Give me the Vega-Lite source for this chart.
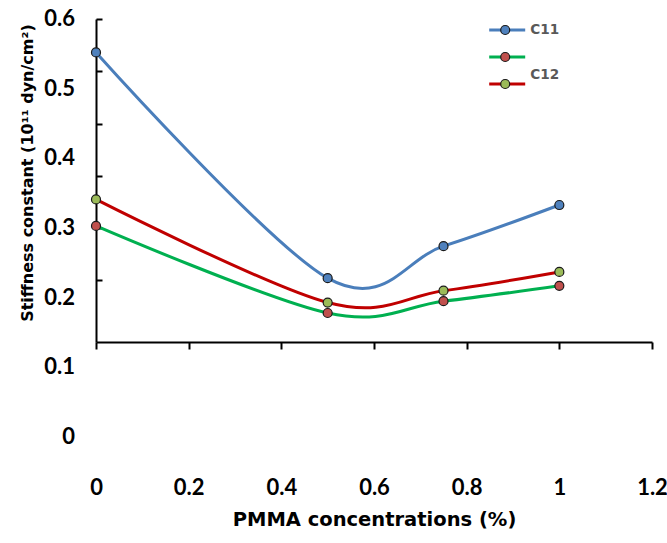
{
  "$schema": "https://vega.github.io/schema/vega-lite/v6.json",
  "width": 556,
  "height": 323,
  "autosize": {"type": "none"},
  "padding": {"left": 96, "top": 19, "right": 15, "bottom": 201},
  "background": "white",
  "config": {"view": {"stroke": null}},
  "datasets": {
    "stiff": [
      {"series": "C11", "conc": 0, "value": 0.552},
      {"series": "C11", "conc": 0.5, "value": 0.228},
      {"series": "C11", "conc": 0.75, "value": 0.274},
      {"series": "C11", "conc": 1, "value": 0.333},
      {"series": "C12", "conc": 0, "value": 0.303},
      {"series": "C12", "conc": 0.5, "value": 0.178},
      {"series": "C12", "conc": 0.75, "value": 0.195},
      {"series": "C12", "conc": 1, "value": 0.217},
      {"series": "C44", "conc": 0, "value": 0.341},
      {"series": "C44", "conc": 0.5, "value": 0.193},
      {"series": "C44", "conc": 0.75, "value": 0.21},
      {"series": "C44", "conc": 1, "value": 0.237}
    ],
    "ylabels": [
      {"tick": 0.6, "label": "0.6"},
      {"tick": 0.5, "label": "0.5"},
      {"tick": 0.4, "label": "0.4"},
      {"tick": 0.3, "label": "0.3"},
      {"tick": 0.2, "label": "0.2"},
      {"tick": 0.1, "label": "0.1"},
      {"tick": 0, "label": "0"}
    ]
  },
  "layer": [
    {
      "data": {"name": "stiff"},
      "mark": {"type": "line", "interpolate": "cardinal", "strokeWidth": 3},
      "encoding": {
        "x": {
          "field": "conc", "type": "quantitative",
          "scale": {"domain": [0, 1.2], "nice": false, "zero": false},
          "axis": {
            "title": "PMMA concentrations (%)",
            "values": [0, 0.2, 0.4, 0.6, 0.8, 1, 1.2],
            "format": "~g",
            "grid": false,
            "labelFlush": false,
            "labelOverlap": false,
            "tickSize": 7,
            "tickWidth": 2,
            "tickColor": "black",
            "domainColor": "black",
            "domainWidth": 2,
            "labelPadding": 128,
            "labelFont": "Lato",
            "labelFontWeight": "bold",
            "labelFontSize": 22,
            "labelColor": "black",
            "titlePadding": 12,
            "titleFont": "DejaVu Sans",
            "titleFontWeight": "bold",
            "titleFontSize": 19.5,
            "titleColor": "black"
          }
        },
        "y": {
          "field": "value", "type": "quantitative",
          "scale": {"domain": [0.1364, 0.6], "nice": false, "zero": false},
          "axis": {
            "title": "Stiffness constant (10¹¹ dyn/cm²)",
            "values": [0.6, 0.525, 0.45, 0.375, 0.3, 0.225],
            "labels": false,
            "grid": false,
            "tickSize": -6,
            "tickWidth": 2,
            "tickColor": "black",
            "domainColor": "black",
            "domainWidth": 2,
            "titleX": -69,
            "titleY": 153.5,
            "titleAngle": -90,
            "titleAlign": "center",
            "titleBaseline": "middle",
            "titleFont": "DejaVu Sans",
            "titleFontWeight": "bold",
            "titleFontSize": 16,
            "titleColor": "black"
          }
        },
        "color": {
          "field": "series", "type": "nominal",
          "scale": {"domain": ["C11", "C12", "C44"], "range": ["#4A7EBB", "#00B050", "#C00000"]},
          "legend": {
            "orient": "none", "legendX": 391.7, "legendY": -2.5,
            "title": null, "padding": 0,
            "symbolType": "stroke", "symbolSize": 1296, "symbolStrokeWidth": 3,
            "clipHeight": 27, "rowPadding": 0,
            "labelExpr": "''", "labelFontSize": 1
          }
        }
      }
    },
    {
      "data": {"name": "stiff"},
      "mark": {"type": "point", "filled": true, "size": 81, "opacity": 1, "stroke": "#1a1a1a", "strokeWidth": 1.2},
      "encoding": {
        "x": {"field": "conc", "type": "quantitative", "scale": {"domain": [0, 1.2], "nice": false, "zero": false}},
        "y": {"field": "value", "type": "quantitative", "scale": {"domain": [0.1364, 0.6], "nice": false, "zero": false}},
        "fill": {
          "field": "series", "type": "nominal",
          "scale": {"range": ["#4F81BD", "#C0504D", "#9BBB59"]},
          "legend": {
            "orient": "none", "legendX": 403.7, "legendY": -2.5,
            "title": null, "padding": 0,
            "symbolType": "circle", "symbolSize": 81,
            "symbolStrokeColor": "#1a1a1a", "symbolStrokeWidth": 1.2,
            "clipHeight": 27, "rowPadding": 0,
            "labelExpr": "''", "labelFontSize": 1
          }
        },
        "shape": {
          "field": "series", "type": "nominal",
          "scale": {"domain": {"unionWith": ["C11"]}, "range": ["circle", "circle", "circle"]},
          "legend": {
            "orient": "none", "legendX": 403.7, "legendY": -11.5,
            "title": null, "padding": 0,
            "symbolType": "circle", "symbolSize": 81, "symbolOpacity": 0, "symbolStrokeWidth": 0,
            "clipHeight": 45, "rowPadding": 0,
            "labelOffset": 17,
            "labelFont": "DejaVu Sans", "labelFontWeight": "bold", "labelFontSize": 13.6, "labelColor": "#595959",
            "labelExpr": "datum.label == 'C44' ? '' : datum.label"
          }
        }
      }
    },
    {
      "data": {"name": "ylabels"},
      "mark": {"type": "text", "align": "right", "baseline": "middle", "dx": -21, "font": "Lato", "fontWeight": "bold", "fontSize": 22, "color": "black"},
      "encoding": {
        "x": {"datum": 0, "type": "quantitative"},
        "y": {"field": "tick", "type": "quantitative", "scale": {"domain": [0.1364, 0.6], "nice": false, "zero": false}},
        "text": {"field": "label"}
      }
    }
  ]
}
